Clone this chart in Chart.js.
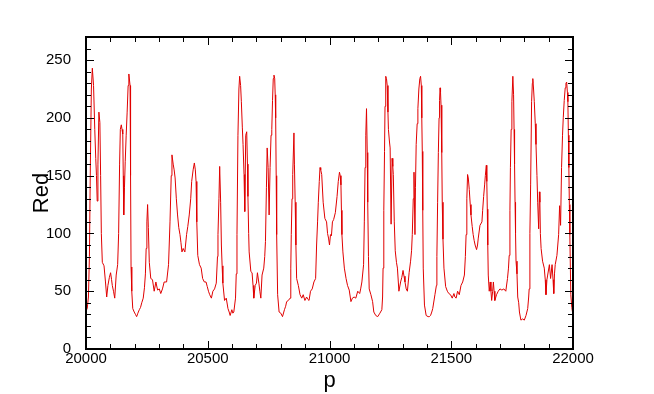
<!DOCTYPE html>
<html>
<head>
<meta charset="utf-8">
<script src="https://cdn.jsdelivr.net/npm/chart.js@4.4.1/dist/chart.umd.min.js"></script>
<style>
  html, body { margin: 0; padding: 0; background: #fff; }
  #myChart { display: block; }
</style>
</head>
<body>
<canvas id="myChart" width="654" height="394"></canvas>
<script>
// values (p position, red channel)
var pValues = [
  20000, 20005, 20010, 20014, 20018, 20022, 20026, 20031, 20036, 20040, 20043, 20046, 20049, 20053, 20057, 20060,
  20063, 20067, 20074, 20080, 20085, 20090, 20096, 20101, 20105, 20108, 20113, 20118, 20124, 20130, 20134, 20138,
  20141, 20145, 20148, 20151, 20153, 20155, 20158, 20161, 20165, 20169, 20173, 20176, 20181, 20183, 20185, 20188,
  20192, 20198, 20203, 20208, 20213, 20219, 20224, 20229, 20235, 20240, 20244, 20247, 20250, 20253, 20256, 20260,
  20266, 20273, 20280, 20287, 20294, 20301, 20307, 20314, 20321, 20331, 20339, 20345, 20350, 20353, 20358, 20362,
  20366, 20371, 20376, 20381, 20386, 20390, 20394, 20399, 20406, 20413, 20418, 20424, 20430, 20434, 20440, 20445,
  20449, 20452, 20455, 20459, 20466, 20473, 20479, 20486, 20493, 20498, 20503, 20508, 20515, 20521, 20528, 20535,
  20540, 20542, 20546, 20549, 20553, 20556, 20559, 20562, 20569, 20576, 20583, 20588, 20592, 20599, 20603, 20607,
  20614, 20617, 20620, 20624, 20628, 20631, 20635, 20638, 20642, 20645, 20649, 20652, 20656, 20660, 20663, 20665,
  20668, 20670, 20677, 20682, 20686, 20689, 20695, 20700, 20704, 20710, 20714, 20718, 20723, 20730, 20734, 20737,
  20741, 20744, 20748, 20752, 20756, 20760, 20763, 20766, 20769, 20772, 20775, 20777, 20779, 20781, 20783, 20787,
  20793, 20800, 20807, 20815, 20820, 20824, 20831, 20838, 20841, 20843, 20846, 20849, 20854, 20856, 20859, 20862,
  20865, 20872, 20879, 20886, 20892, 20899, 20906, 20911, 20916, 20922, 20929, 20936, 20943, 20947, 20951, 20954,
  20958, 20961, 20964, 20968, 20974, 20981, 20988, 20992, 20996, 21000, 21004, 21008, 21012, 21017, 21024, 21031,
  21036, 21041, 21044, 21047, 21049, 21051, 21055, 21061, 21068, 21074, 21081, 21088, 21094, 21101, 21108, 21116,
  21124, 21128, 21133, 21140, 21143, 21146, 21149, 21152, 21155, 21157, 21160, 21163, 21170, 21177, 21182, 21190,
  21198, 21207, 21215, 21218, 21220, 21223, 21226, 21228, 21231, 21234, 21237, 21240, 21242, 21246, 21249, 21253,
  21257, 21260, 21262, 21266, 21270, 21275, 21279, 21285, 21292, 21297, 21302, 21306, 21310, 21315, 21320, 21327,
  21333, 21337, 21340, 21344, 21347, 21351, 21353, 21356, 21360, 21363, 21367, 21371, 21374, 21377, 21379, 21381,
  21383, 21385, 21390, 21397, 21405, 21410, 21415, 21420, 21424, 21433, 21439, 21441, 21444, 21447, 21450, 21452,
  21454, 21456, 21458, 21461, 21463, 21466, 21470, 21477, 21484, 21490, 21497, 21504, 21511, 21515, 21520, 21526,
  21533, 21540, 21547, 21554, 21558, 21561, 21564, 21567, 21570, 21574, 21578, 21581, 21586, 21590, 21594, 21598,
  21604, 21608, 21611, 21618, 21626, 21629, 21633, 21637, 21640, 21644, 21646, 21648, 21650, 21652, 21656, 21660,
  21663, 21666, 21670, 21673, 21676, 21679, 21686, 21693, 21700, 21708, 21716, 21724, 21731, 21735, 21738, 21741,
  21743, 21746, 21749, 21753, 21756, 21758, 21760, 21762, 21764, 21766, 21770, 21773, 21777, 21780, 21786, 21793,
  21800, 21807, 21814, 21818, 21820, 21823, 21826, 21830, 21833, 21835, 21838, 21841, 21845, 21848, 21852, 21855,
  21859, 21862, 21864, 21866, 21869, 21875, 21882, 21886, 21889, 21893, 21896, 21903, 21908, 21914, 21918, 21921,
  21924, 21927, 21934, 21941, 21945, 21949, 21953, 21957, 21960, 21964, 21968, 21971, 21974, 21977, 21979, 21981,
  21983, 21985, 21987, 21991, 21995, 21998, 22000
];
var redValues = [
  33, 35, 45, 80, 160, 225, 243, 228, 190, 165, 150, 128, 160, 205, 196, 150,
  100, 75, 72, 58, 45, 55, 62, 66, 60, 55, 50, 44, 64, 73, 100, 160,
  190, 194, 190, 186, 150, 116, 140, 162, 185, 205, 228, 238, 228, 150, 71, 50,
  35, 32, 30, 28, 31, 34, 36, 40, 44, 53, 65, 87, 110, 125, 105, 75,
  61, 60, 50, 58, 51, 52, 48, 52, 58, 58, 73, 110, 150, 168, 160, 155,
  148, 130, 116, 105, 99, 92, 84, 87, 84, 99, 106, 116, 130, 145, 155, 161,
  155, 145, 110, 81, 73, 70, 61, 58, 58, 54, 50, 47, 44, 50, 52, 57,
  80, 99, 130, 158, 127, 90, 72, 57, 42, 44, 35, 32, 29, 34, 31, 32,
  44, 65, 99, 185, 225, 236, 228, 214, 192, 177, 151, 119, 185, 188, 160, 132,
  100, 84, 67, 66, 55, 44, 55, 57, 66, 57, 50, 44, 64, 70, 80, 93,
  140, 174, 157, 116, 157, 185, 190, 215, 234, 237, 234, 220, 200, 150, 99, 47,
  32, 31, 28, 34, 37, 41, 42, 44, 70, 99, 130, 151, 187, 160, 127, 90,
  61, 55, 47, 44, 47, 42, 45, 43, 42, 50, 52, 58, 61, 90, 110, 127,
  145, 157, 155, 151, 127, 113, 110, 100, 96, 90, 99, 98, 110, 112, 118, 132,
  145, 153, 150, 142, 120, 99, 84, 70, 61, 55, 51, 41, 44, 45, 44, 50,
  48, 52, 58, 73, 110, 157, 185, 208, 170, 127, 80, 52, 47, 41, 32, 29,
  28, 31, 34, 45, 70, 120, 171, 210, 236, 234, 228, 205, 190, 180, 174, 108,
  165, 158, 151, 110, 85, 75, 70, 50, 58, 62, 68, 63, 58, 52, 50, 66,
  76, 85, 99, 130, 153, 99, 140, 177, 195, 208, 225, 234, 236, 228, 200, 171,
  120, 70, 38, 29, 28, 28, 29, 32, 35, 47, 55, 80, 127, 170, 200, 215,
  226, 222, 211, 170, 127, 95, 70, 54, 50, 48, 47, 44, 48, 45, 44, 50,
  47, 55, 58, 64, 80, 99, 130, 151, 148, 138, 125, 116, 106, 99, 94, 90,
  86, 90, 96, 107, 110, 120, 132, 142, 150, 159, 145, 121, 90, 64, 50, 58,
  50, 42, 50, 58, 50, 42, 47, 50, 52, 51, 52, 50, 61, 70, 81, 120,
  157, 190, 214, 236, 220, 190, 160, 127, 100, 76, 65, 45, 40, 32, 25, 26,
  25, 29, 35, 45, 52, 100, 142, 214, 230, 234, 225, 214, 195, 177, 150, 127,
  104, 136, 127, 100, 87, 76, 70, 60, 47, 60, 64, 73, 61, 73, 60, 48,
  65, 73, 81, 99, 124, 107, 157, 185, 200, 215, 226, 230, 231, 222, 214, 185,
  157, 125, 99, 47, 36, 32, 28
];
var xTicks = [20000, 20500, 21000, 21500, 22000];
var yTicks = [0, 50, 100, 150, 200, 250];

var points = pValues.map(function (p, i) {
    return { x: p, y: redValues[i] };
});

// black box round the plot with inward ticks on all four sides
var frameTicks = {
    id: 'frameTicks',
    afterDraw: function (chart) {
        var ctx = chart.ctx;
        var a = chart.chartArea;
        var xs = chart.scales.x;
        var ys = chart.scales.y;
        ctx.save();
        ctx.strokeStyle = '#000';
        ctx.lineWidth = 1;
        ctx.beginPath();
        for (var v = ys.min; v <= ys.max; v += 10) {
            var py = Math.round(ys.getPixelForValue(v)) + 0.5;
            var len = yTicks.indexOf(v) >= 0 ? 8 : 5;
            ctx.moveTo(a.left, py); ctx.lineTo(a.left + len, py);
            ctx.moveTo(a.right, py); ctx.lineTo(a.right - len, py);
        }
        for (var p = xs.min; p <= xs.max; p += 100) {
            var px = Math.round(xs.getPixelForValue(p)) + 0.5;
            var l2 = xTicks.indexOf(p) >= 0 ? 8 : 5;
            ctx.moveTo(px, a.bottom); ctx.lineTo(px, a.bottom - l2);
            ctx.moveTo(px, a.top); ctx.lineTo(px, a.top + l2);
        }
        ctx.stroke();
        ctx.lineWidth = 2;
        ctx.strokeRect(a.left, a.top, a.right - a.left, a.bottom - a.top);
        ctx.restore();
    }
};

var tickFont = { family: 'Liberation Sans', size: 15 };
var titleFont = { family: 'Liberation Sans', size: 22 };

new Chart('myChart', {
    type: 'line',
    data: {
        datasets: [{
            label: 'Red',
            data: points,
            borderColor: '#e00000',
            borderWidth: 1,
            pointRadius: 0,
            tension: 0,
            fill: false
        }]
    },
    options: {
        animation: false,
        responsive: false,
        devicePixelRatio: 1,
        layout: { padding: { top: 37, right: 81, left: 0, bottom: 0 } },
        plugins: {
            legend: { display: false },
            tooltip: { enabled: false }
        },
        scales: {
            x: {
                type: 'linear',
                min: 20000,
                max: 22000,
                afterBuildTicks: function (s) {
                    s.ticks = xTicks.map(function (v) { return { value: v }; });
                },
                ticks: {
                    color: '#000',
                    font: tickFont,
                    padding: -7,
                    maxRotation: 0,
                    autoSkip: false,
                    callback: function (v) { return String(v); }
                },
                grid: { display: false },
                border: { display: false },
                title: {
                    display: true,
                    text: 'p',
                    color: '#000',
                    font: titleFont,
                    padding: { top: 3, bottom: 0 }
                },
                afterFit: function (s) { s.height = 45; }
            },
            y: {
                min: 0,
                max: 270,
                afterBuildTicks: function (s) {
                    s.ticks = yTicks.map(function (v) { return { value: v }; });
                },
                ticks: {
                    color: '#000',
                    font: tickFont,
                    padding: 7,
                    callback: function (v) { return String(v); }
                },
                grid: { display: false },
                border: { display: false },
                title: {
                    display: true,
                    text: 'Red',
                    color: '#000',
                    font: titleFont,
                    padding: { top: 29, bottom: 0 }
                },
                afterFit: function (s) { s.width = 86; }
            }
        }
    },
    plugins: [frameTicks]
});
</script>
</body>
</html>
